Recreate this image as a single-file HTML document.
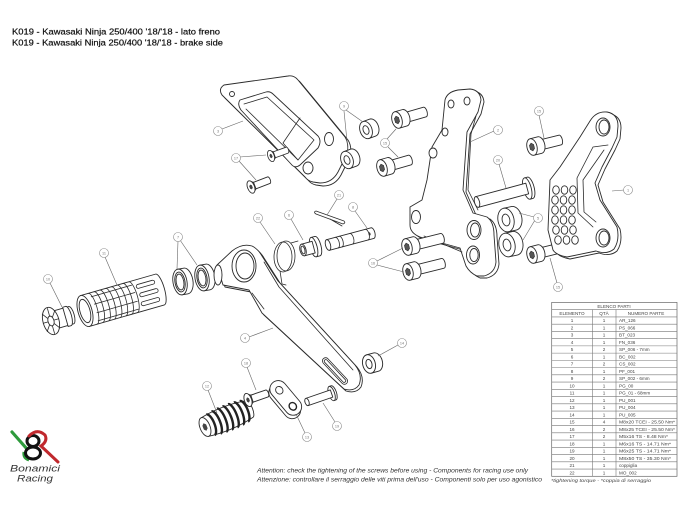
<!DOCTYPE html>
<html><head><meta charset="utf-8">
<style>
html,body{margin:0;padding:0;background:#fff}
svg{display:block}
.l{fill:#fff;stroke:#2b2b2b;stroke-width:.9;stroke-linejoin:round}
.n{fill:none;stroke:#2b2b2b;stroke-width:.8;stroke-linejoin:round;stroke-linecap:round}
.ld{stroke:#666;stroke-width:.6;fill:none}
.c{fill:#fff;stroke:#8a8a8a;stroke-width:.6}
.ct{font-family:"Liberation Sans",sans-serif;font-size:3.8px;fill:#777;text-anchor:middle}
.tb{font-family:"Liberation Sans",sans-serif;font-size:4.6px;fill:#444}
.tc{text-anchor:middle}
</style></head>
<body>
<svg width="680" height="510" viewBox="0 0 680 510" xmlns="http://www.w3.org/2000/svg">
<rect width="680" height="510" fill="#fff"/>
<defs>
 <g id="b29">
  <path class="l" d="M6,-5 L29,-5 A2.2,5 0 0 1 29,5 L6,5 Z"/>
  <path class="l" d="M0,-8.5 L8,-8.5 A5,8.5 0 0 1 8,8.5 L0,8.5 Z"/>
  <ellipse class="l" rx="5" ry="8.5"/>
  <path d="M0,-4 L2.2,-2 L2.2,2 L0,4 L-2.2,2 L-2.2,-2 Z" fill="#555" stroke="#222" stroke-width=".5"/>
 </g>
 <g id="b36">
  <path class="l" d="M6,-5 L36,-5 A2.2,5 0 0 1 36,5 L6,5 Z"/>
  <path class="l" d="M0,-8.5 L8,-8.5 A5,8.5 0 0 1 8,8.5 L0,8.5 Z"/>
  <ellipse class="l" rx="5" ry="8.5"/>
  <path d="M0,-4 L2.2,-2 L2.2,2 L0,4 L-2.2,2 L-2.2,-2 Z" fill="#555" stroke="#222" stroke-width=".5"/>
 </g>
 <g id="fb">
  <path class="l" d="M3,-3.5 L19,-3.5 A1.6,3.5 0 0 1 19,3.5 L3,3.5 Z"/>
  <path class="l" d="M0,-6.5 L4,-3.5 L4,3.5 L0,6.5 Z"/>
  <ellipse class="l" rx="3.5" ry="6.5"/>
  <path d="M0,-2.6 L1.4,-1.3 L1.4,1.3 L0,2.6 L-1.4,1.3 L-1.4,-1.3 Z" fill="#444"/>
 </g>
 <g id="w9">
  <path class="l" d="M0,-9 L7,-9 A6,9 0 0 1 7,9 L0,9 Z"/>
  <ellipse class="l" rx="6" ry="9"/>
  <ellipse class="l" rx="2.8" ry="4.5"/>
 </g>
 <g id="w5">
  <path class="l" d="M0,-12 L8,-12 A8,12 0 0 1 8,12 L0,12 Z"/>
  <ellipse class="l" rx="8" ry="12"/>
  <ellipse class="l" rx="3.8" ry="6"/>
 </g>
</defs>

<!-- Title -->
<text x="12" y="34.3" font-family="Liberation Sans, sans-serif" font-size="8.4" fill="#111" stroke="#111" stroke-width=".2" textLength="208" lengthAdjust="spacingAndGlyphs">K019 - Kawasaki Ninja 250/400 '18/'18 - lato freno</text>
<text x="12" y="45.6" font-family="Liberation Sans, sans-serif" font-size="8.4" fill="#111" stroke="#111" stroke-width=".2" textLength="211" lengthAdjust="spacingAndGlyphs">K019 - Kawasaki Ninja 250/400 '18/'18 - brake side</text>

<!-- Part 3 plate -->
<path class="l" transform="translate(3,3)" d="M224,85 L288,76 Q294,75 298,80 L345,137 Q350,145 346,156 L338,172 Q332,183 320,183 L313,182 Q308,181 305,177 L222,95 Q218,89 224,85 Z"/>
<path class="l" d="M224,85 L288,76 Q294,75 298,80 L345,137 Q350,145 346,156 L338,172 Q332,183 320,183 L313,182 Q308,181 305,177 L222,95 Q218,89 224,85 Z"/>
<path class="l" d="M240,100 L266,92 Q270,91 273,94 L318,136 Q322,141 318,148 L300,165 Q295,169 291,164 L241,110 Q237,104 240,100 Z"/>
<path class="n" d="M244,104 L267,97 L314,140 L298,160 L246,109"/>
<path class="n" d="M300,118 L283,143 L298,160"/>
<circle class="l" cx="232" cy="94" r="2.5"/>
<ellipse class="l" cx="329" cy="139" rx="4.5" ry="6.5"/>
<ellipse class="l" cx="308" cy="168" rx="5" ry="6"/>

<!-- 17 bolts -->
<use href="#fb" transform="translate(271,156) rotate(-20) scale(.9)"/>
<use href="#fb" transform="translate(251,187) rotate(-21)"/>

<!-- 9 washers -->
<use href="#w9" transform="translate(366,130) rotate(-20)"/>
<use href="#w9" transform="translate(347,160) rotate(-20)"/>

<!-- 15 bolts upper -->
<use href="#b29" transform="translate(397,120) rotate(-16)"/>
<use href="#b29" transform="translate(382,168) rotate(-16)"/>

<!-- Part 2 bracket -->
<path class="l" transform="translate(3,2)" d="M445,100 Q447,92 458,90 L470,89 Q480,90 481,100 L478,112 L467,132 L463,190 L473,213 L487,217 Q494,222 494,235 L496,262 Q495,273 484,276 L477,276 Q470,273 466,266 L460,248 L420,237 Q410,233 410,225 L410,207 L422,200 L427,180 L432,147 L442,130 Z"/>
<path class="l" d="M445,100 Q447,92 458,90 L470,89 Q480,90 481,100 L478,112 L467,132 L463,190 L473,213 L487,217 Q494,222 494,235 L496,262 Q495,273 484,276 L477,276 Q470,273 466,266 L460,248 L420,237 Q410,233 410,225 L410,207 L422,200 L427,180 L432,147 L442,130 Z"/>
<path class="n" d="M476,116 L471,134 L468,190 L478,210"/>
<path class="n" d="M424,236 L462,252"/>
<ellipse class="l" cx="451" cy="104" rx="3" ry="4"/>
<ellipse class="l" cx="467" cy="101" rx="3" ry="4"/>
<ellipse class="l" cx="445" cy="132" rx="3" ry="4"/>
<ellipse class="l" cx="433" cy="153" rx="4" ry="5"/>
<ellipse class="l" cx="416" cy="217" rx="4.5" ry="6.5"/>
<ellipse class="l" cx="474" cy="230" rx="7" ry="9.5"/>
<ellipse class="l" cx="475" cy="230" rx="4.5" ry="7"/>
<ellipse class="l" cx="473" cy="255" rx="6.5" ry="9"/>
<ellipse class="l" cx="474" cy="255" rx="4.2" ry="6.5"/>

<!-- 16 bolts -->
<use href="#b36" transform="translate(407,247) rotate(-14)"/>
<use href="#b36" transform="translate(408,272) rotate(-14)"/>

<!-- 20 pin -->
<g transform="translate(477,202) rotate(-15)">
 <path class="l" d="M52,-11 L55,-11 A4,11 0 0 1 55,11 L52,11 Z"/>
 <ellipse class="l" cx="52" rx="4" ry="11"/>
 <path class="l" d="M0,-5.5 L52,-5.5 L52,5.5 L0,5.5 Z"/>
 <ellipse class="l" rx="2.5" ry="5.5"/>
</g>

<!-- 5 washers -->
<use href="#w5" transform="translate(506,220) rotate(-12)"/>
<use href="#w5" transform="translate(507,245) rotate(-12)"/>

<!-- 15 bolts right -->
<use href="#b29" transform="translate(532,147) rotate(-14)"/>
<use href="#b29" transform="translate(532,255) rotate(-14)"/>

<!-- Part 1 plate -->
<path class="l" transform="translate(3,2)" d="M590,121 Q596,111 607,112 Q618,114 618,126 L617,137 L612,148 L602,167 L595,183 L600,200 L617,227 Q620,240 614,249 Q607,255 596,251 L567,257 Q556,255 553,250 L548,230 L550,180 L560,167 L580,137 Z"/>
<path class="l" d="M590,121 Q596,111 607,112 Q618,114 618,126 L617,137 L612,148 L602,167 L595,183 L600,200 L617,227 Q620,240 614,249 Q607,255 596,251 L567,257 Q556,255 553,250 L548,230 L550,180 L560,167 L580,137 Z"/>
<path class="n" d="M608,145 L593,147 L577,178 L578,213 L593,227"/>
<path class="n" d="M604,150 L583,180 L584,212 L596,222"/>
<ellipse class="l" cx="603" cy="127" rx="7" ry="9"/>
<ellipse class="l" cx="604" cy="127" rx="5" ry="7"/>
<ellipse class="l" cx="603" cy="238" rx="7" ry="9"/>
<ellipse class="l" cx="604" cy="238" rx="5" ry="7"/>
<g class="l" stroke-width=".8">
<ellipse cx="556" cy="190" rx="3.3" ry="4.2"/><ellipse cx="564.5" cy="190" rx="3.3" ry="4.2"/><ellipse cx="573" cy="190" rx="3.3" ry="4.2"/>
<ellipse cx="555" cy="200" rx="3.3" ry="4.2"/><ellipse cx="563.5" cy="200" rx="3.3" ry="4.2"/><ellipse cx="572" cy="200" rx="3.3" ry="4.2"/>
<ellipse cx="555" cy="210" rx="3.3" ry="4.2"/><ellipse cx="563.5" cy="210" rx="3.3" ry="4.2"/><ellipse cx="572" cy="210" rx="3.3" ry="4.2"/>
<ellipse cx="555" cy="220" rx="3.3" ry="4.2"/><ellipse cx="563.5" cy="220" rx="3.3" ry="4.2"/><ellipse cx="572" cy="220" rx="3.3" ry="4.2"/>
<ellipse cx="556" cy="230" rx="3.3" ry="4.2"/><ellipse cx="564.5" cy="230" rx="3.3" ry="4.2"/><ellipse cx="573" cy="230" rx="3.3" ry="4.2"/>
<ellipse cx="558" cy="240" rx="3.3" ry="4.2"/><ellipse cx="566.5" cy="240" rx="3.3" ry="4.2"/><ellipse cx="575" cy="240" rx="3.3" ry="4.2"/>
</g>

<!-- 10 end cap -->
<g transform="translate(51,321) rotate(-16)">
 <path class="l" d="M0,-9 L21,-9 A3,9 0 0 1 21,9 L0,9 Z"/>
 <path class="l" d="M15,-10 L18,-10 A3.2,10 0 0 1 18,10 L15,10 Z"/>
 <ellipse class="l" rx="8" ry="14"/>
 <ellipse class="l" rx="3" ry="5"/>
 <path class="n" d="M0,-5 L0,-13 M2.6,-3.5 L6.5,-9 M3,0 L8,0 M2.6,3.5 L6.5,9 M0,5 L0,13 M-2.6,3.5 L-6.5,9 M-3,0 L-8,0 M-2.6,-3.5 L-6.5,-9" stroke-width="1.4"/>
</g>

<!-- 11 footpeg -->
<g transform="translate(85,311) rotate(-16)">
 <path class="l" d="M0,-16 L78,-16 A4.5,16 0 0 1 78,16 L0,16 Z"/>
 <path class="n" d="M8,-16 A4.5,16 0 0 1 8,16 M14,-16 A4.5,16 0 0 1 14,16 M20,-16 A4.5,16 0 0 1 20,16 M26,-16 A4.5,16 0 0 1 26,16 M32,-16 A4.5,16 0 0 1 32,16 M38,-16 A4.5,16 0 0 1 38,16 M44,-16 A4.5,16 0 0 1 44,16 M50,-16 A4.5,16 0 0 1 50,16"/>
 <path class="n" d="M10,-12 L52,-12 M11,-4 L53,-4 M11,5 L53,5 M10,13 L52,13"/>
 <rect class="n" x="56" y="-11" width="19" height="4" rx="2"/>
 <rect class="n" x="57" y="-2" width="19" height="4" rx="2"/>
 <rect class="n" x="56" y="7" width="19" height="4" rx="2"/>
 <ellipse class="l" rx="7" ry="16"/>
 <ellipse class="l" rx="5" ry="12"/>
</g>

<!-- 7 bearings -->
<g transform="translate(180,282) rotate(-10)">
 <path class="l" d="M0,-13 L6,-13 A7,13 0 0 1 6,13 L0,13 Z"/>
 <ellipse class="l" rx="7" ry="13" stroke-width="1.4"/>
 <ellipse class="l" rx="5" ry="10"/>
 <ellipse class="l" rx="3.8" ry="8" stroke-width="1.3"/>
</g>
<g transform="translate(202,278) rotate(-10)">
 <path class="l" d="M0,-13 L6,-13 A7,13 0 0 1 6,13 L0,13 Z"/>
 <ellipse class="l" rx="7" ry="13" stroke-width="1.4"/>
 <ellipse class="l" rx="5" ry="10"/>
 <ellipse class="l" rx="3.8" ry="8" stroke-width="1.3"/>
</g>

<!-- 22 spring (behind) -->
<ellipse class="n" cx="283" cy="257" rx="9" ry="15" stroke-width="1"/>
<ellipse class="n" cx="286" cy="256" rx="9" ry="15" stroke-width="1"/>
<path class="n" d="M280,271 L282,284 L286,285 M291,243 L298,241"/>

<!-- 4 lever -->
<path class="l" transform="translate(2,2)" d="M217,265 L232,251 Q242,243 252,246 Q258,249 262,256 L278,281 L355,365 Q363,375 359,385 Q354,392 344,389 L262,313 L249,290 L223,285 Z"/>
<path class="l" d="M217,265 L232,251 Q242,243 252,246 Q258,249 262,256 L278,281 L355,365 Q363,375 359,385 Q354,392 344,389 L262,313 L249,290 L223,285 Z"/>
<path class="n" d="M264,262 L279,287 L353,370"/>
<path class="n" d="M252,293 L264,309"/>
<ellipse class="l" cx="218" cy="275" rx="4" ry="10"/>
<ellipse class="l" cx="244" cy="266" rx="12" ry="16"/>
<ellipse class="l" cx="245" cy="266" rx="9" ry="13" stroke-width="1.8"/>
<g transform="translate(335,371) rotate(47)">
 <rect class="n" x="-17" y="-3.2" width="34" height="6.4" rx="3.2"/>
 <rect class="n" x="-15" y="-1.6" width="30" height="3.2" rx="1.6"/>
</g>

<!-- 6 bushing -->
<g transform="translate(303,250) rotate(-15)">
 <path class="l" d="M11,-10 L15,-10 A3.5,10 0 0 1 15,10 L11,10 Z"/>
 <ellipse class="l" cx="11" rx="3.5" ry="10" stroke-width="1.4"/>
 <path class="l" d="M0,-6 L11,-6 L11,6 L0,6 Z"/>
 <ellipse class="l" rx="3" ry="6" stroke-width="1.3"/>
 <ellipse class="l" rx="1.8" ry="4"/>
</g>

<!-- 21 cotter pin -->
<path class="n" d="M316,211 L344,221 Q346,223 343,224 L316,214 Q313,212 316,211 Z M330,219 L342,226"/>

<!-- 8 shaft -->
<g transform="translate(328,245) rotate(-15)">
 <path class="l" d="M0,-5.5 L46,-5.5 A2.5,5.5 0 0 1 46,5.5 L0,5.5 Z"/>
 <ellipse class="l" rx="2.5" ry="5.5"/>
 <path class="n" d="M9,-5.5 A2.5,5.5 0 0 1 9,5.5 M13,-5.5 A2.5,5.5 0 0 1 13,5.5 M24,-5.5 A2.5,5.5 0 0 1 24,5.5 M40,-5.5 A2.5,5.5 0 0 1 40,5.5"/>
 <ellipse cx="43" cy="0" rx="1" ry="1.6" fill="#333"/>
</g>

<!-- 14 washer -->
<use href="#w9" transform="translate(369,364) rotate(-15) scale(1.05)"/>

<!-- 12 rubber -->
<g transform="translate(205,427) rotate(-22)">
 <path class="l" d="M0,-10 Q24,-14 48,-9 A3,9 0 0 1 48,9 Q24,14 0,10 Z"/>
 <path d="M6,-11 A4,11 0 0 1 6,11 M12,-12 A4,12 0 0 1 12,12 M18,-12.5 A4,12.5 0 0 1 18,12.5 M24,-12.5 A4,12.5 0 0 1 24,12.5 M30,-12.5 A4,12.5 0 0 1 30,12.5 M36,-12 A4,12 0 0 1 36,12 M42,-11 A4,11 0 0 1 42,11" fill="none" stroke="#222" stroke-width="2.4"/>
 <ellipse class="l" rx="5" ry="10"/>
 <path d="M0,-4 L2,-2 L2,2 L0,4 L-2,2 L-2,-2 Z" fill="#444"/>
</g>

<!-- 18 bolt -->
<use href="#fb" transform="translate(248,400) rotate(-19) scale(1.05)"/>

<!-- 13 link -->
<g transform="translate(286,399) rotate(50)">
 <rect class="l" x="-19" y="-6" width="40" height="17" rx="8.5"/>
 <rect class="l" x="-21" y="-9" width="40" height="17" rx="8.5"/>
 <ellipse class="l" cx="-11" cy="-0.5" rx="4" ry="3.5"/>
 <ellipse cx="10" cy="-0.5" rx="4" ry="3.5" fill="#fff" stroke="#222" stroke-width="1.4"/>
</g>

<!-- 19 pin -->
<g transform="translate(307,402) rotate(-19)">
 <path class="l" d="M26,-7.5 L28,-7.5 A3,7.5 0 0 1 28,7.5 L26,7.5 Z"/>
 <ellipse class="l" cx="26" rx="3" ry="7.5"/>
 <path class="l" d="M0,-3.8 L26,-3.8 L26,3.8 L0,3.8 Z"/>
 <ellipse class="l" rx="2" ry="3.8"/>
</g>

<!-- Leaders and labels -->
<g class="ld">
 <line x1="222" y1="129" x2="243" y2="121"/>
 <line x1="346" y1="110" x2="363" y2="122"/><line x1="344" y1="111" x2="348" y2="151"/>
 <line x1="240" y1="157" x2="266" y2="155"/><line x1="239" y1="161" x2="256" y2="180"/>
 <line x1="387" y1="139" x2="396" y2="129"/><line x1="388" y1="147" x2="398" y2="157"/>
 <line x1="494" y1="131" x2="470" y2="142"/>
 <line x1="539" y1="115" x2="544" y2="138"/>
 <line x1="499" y1="164" x2="506" y2="188"/>
 <line x1="534" y1="217" x2="519" y2="213"/><line x1="535" y1="220" x2="523" y2="240"/>
 <line x1="624" y1="190" x2="612" y2="191"/>
 <line x1="557" y1="283" x2="550" y2="258"/>
 <line x1="377" y1="261" x2="403" y2="248"/><line x1="377" y1="265" x2="404" y2="272"/>
 <line x1="50" y1="283" x2="62" y2="307"/>
 <line x1="105" y1="257" x2="117" y2="285"/>
 <line x1="178" y1="241" x2="177" y2="269"/><line x1="180" y1="240" x2="197" y2="265"/>
 <line x1="260" y1="222" x2="275" y2="244"/>
 <line x1="291" y1="219" x2="303" y2="240"/>
 <line x1="337" y1="199" x2="327" y2="215"/>
 <line x1="355" y1="211" x2="367" y2="228"/>
 <line x1="249" y1="337" x2="273" y2="328"/>
 <line x1="398" y1="345" x2="378" y2="356"/>
 <line x1="208" y1="390" x2="217" y2="413"/>
 <line x1="247" y1="367" x2="256" y2="390"/>
 <line x1="305" y1="433" x2="296" y2="414"/>
 <line x1="335" y1="422" x2="323" y2="403"/>
</g>
<g>
 <circle class="c" cx="218" cy="131" r="4.5"/><text class="ct" x="218" y="132.4">3</text>
 <circle class="c" cx="344" cy="106" r="4.5"/><text class="ct" x="344" y="107.4">9</text>
 <circle class="c" cx="236" cy="158" r="4.5"/><text class="ct" x="236" y="159.4">17</text>
 <circle class="c" cx="385" cy="143" r="4.5"/><text class="ct" x="385" y="144.4">15</text>
 <circle class="c" cx="498" cy="130" r="4.5"/><text class="ct" x="498" y="131.4">2</text>
 <circle class="c" cx="539" cy="111" r="4.5"/><text class="ct" x="539" y="112.4">15</text>
 <circle class="c" cx="498" cy="160" r="4.5"/><text class="ct" x="498" y="161.4">20</text>
 <circle class="c" cx="538" cy="218" r="4.5"/><text class="ct" x="538" y="219.4">5</text>
 <circle class="c" cx="628" cy="190" r="4.5"/><text class="ct" x="628" y="191.4">1</text>
 <circle class="c" cx="558" cy="287" r="4.5"/><text class="ct" x="558" y="288.4">15</text>
 <circle class="c" cx="373" cy="263" r="4.5"/><text class="ct" x="373" y="264.4">16</text>
 <circle class="c" cx="48" cy="279" r="4.5"/><text class="ct" x="48" y="280.4">10</text>
 <circle class="c" cx="104" cy="253" r="4.5"/><text class="ct" x="104" y="254.4">11</text>
 <circle class="c" cx="178" cy="237" r="4.5"/><text class="ct" x="178" y="238.4">7</text>
 <circle class="c" cx="258" cy="218" r="4.5"/><text class="ct" x="258" y="219.4">22</text>
 <circle class="c" cx="289" cy="215" r="4.5"/><text class="ct" x="289" y="216.4">6</text>
 <circle class="c" cx="339" cy="195" r="4.5"/><text class="ct" x="339" y="196.4">21</text>
 <circle class="c" cx="353" cy="207" r="4.5"/><text class="ct" x="353" y="208.4">8</text>
 <circle class="c" cx="245" cy="338" r="4.5"/><text class="ct" x="245" y="339.4">4</text>
 <circle class="c" cx="402" cy="343" r="4.5"/><text class="ct" x="402" y="344.4">14</text>
 <circle class="c" cx="207" cy="386" r="4.5"/><text class="ct" x="207" y="387.4">12</text>
 <circle class="c" cx="246" cy="363" r="4.5"/><text class="ct" x="246" y="364.4">18</text>
 <circle class="c" cx="307" cy="437" r="4.5"/><text class="ct" x="307" y="438.4">13</text>
 <circle class="c" cx="337" cy="426" r="4.5"/><text class="ct" x="337" y="427.4">19</text>
</g>

<!-- Logo -->
<path d="M12,432 L27,449" stroke="#2e9a3c" stroke-width="3.2" fill="none" stroke-linecap="round"/>
<path d="M24,452 Q23,458 29,460" stroke="#2e9a3c" stroke-width="3" fill="none"/>
<ellipse cx="33" cy="441" rx="6" ry="5.5" stroke="#111" stroke-width="3" fill="none"/>
<ellipse cx="33" cy="453" rx="7.5" ry="6" stroke="#111" stroke-width="3" fill="none"/>
<path d="M29,436 Q37,428 45,435 Q48,441 41,446 L58,462" stroke="#c0282d" stroke-width="3" fill="none" stroke-linecap="round"/>
<text x="10" y="471.7" font-family="Liberation Sans, sans-serif" font-style="italic" font-size="9.5" fill="#333" textLength="50" lengthAdjust="spacingAndGlyphs">Bonamici</text>
<text x="17" y="481.7" font-family="Liberation Sans, sans-serif" font-style="italic" font-size="9.5" fill="#333" textLength="36" lengthAdjust="spacingAndGlyphs">Racing</text>

<!-- Attention text -->
<text x="257" y="472.7" font-family="Liberation Sans, sans-serif" font-style="italic" font-size="6.2" fill="#333" textLength="271" lengthAdjust="spacingAndGlyphs">Attention: check the tightening of the screws before using - Components for racing use only</text>
<text x="257" y="481.7" font-family="Liberation Sans, sans-serif" font-style="italic" font-size="6.2" fill="#333" textLength="285" lengthAdjust="spacingAndGlyphs">Attenzione: controllare il serraggio delle viti prima dell'uso - Componenti solo per uso agonistico</text>

<!-- Table -->
<rect x="551.7" y="302.4" width="125.3" height="173.9" fill="#fff" stroke="#666" stroke-width=".7"/>
<path d="M551.7,309.6H677 M551.7,316.9H677 M551.7,324.15H677 M551.7,331.39H677 M551.7,338.64H677 M551.7,345.88H677 M551.7,353.13H677 M551.7,360.37H677 M551.7,367.62H677 M551.7,374.86H677 M551.7,382.11H677 M551.7,389.35H677 M551.7,396.6H677 M551.7,403.84H677 M551.7,411.09H677 M551.7,418.33H677 M551.7,425.58H677 M551.7,432.82H677 M551.7,440.07H677 M551.7,447.31H677 M551.7,454.56H677 M551.7,461.8H677 M551.7,469.05H677 M592.3,309.6V476.3 M616,309.6V476.3" stroke="#777" stroke-width=".6" fill="none"/>
<g class="tb">
<text class="tc" x="614" y="307.9">ELENCO PARTI</text>
<text class="tc" x="572" y="315.2">ELEMENTO</text><text class="tc" x="604" y="315.2">QTÀ</text><text class="tc" x="646" y="315.2">NUMERO PARTE</text>
</g>
<g class="tb">
<text class="tc" x="572" y="322.2">1</text><text class="tc" x="604" y="322.2">1</text><text x="619" y="322.2">AR_126</text>
<text class="tc" x="572" y="329.4">2</text><text class="tc" x="604" y="329.4">1</text><text x="619" y="329.4">PS_066</text>
<text class="tc" x="572" y="336.7">3</text><text class="tc" x="604" y="336.7">1</text><text x="619" y="336.7">BT_023</text>
<text class="tc" x="572" y="343.9">4</text><text class="tc" x="604" y="343.9">1</text><text x="619" y="343.9">FN_036</text>
<text class="tc" x="572" y="351.2">5</text><text class="tc" x="604" y="351.2">2</text><text x="619" y="351.2">SP_006 - 7mm</text>
<text class="tc" x="572" y="358.4">6</text><text class="tc" x="604" y="358.4">1</text><text x="619" y="358.4">BC_002</text>
<text class="tc" x="572" y="365.7">7</text><text class="tc" x="604" y="365.7">2</text><text x="619" y="365.7">CS_002</text>
<text class="tc" x="572" y="372.9">8</text><text class="tc" x="604" y="372.9">1</text><text x="619" y="372.9">PF_001</text>
<text class="tc" x="572" y="380.2">9</text><text class="tc" x="604" y="380.2">2</text><text x="619" y="380.2">SP_002 - 6mm</text>
<text class="tc" x="572" y="387.4">10</text><text class="tc" x="604" y="387.4">1</text><text x="619" y="387.4">PG_00</text>
<text class="tc" x="572" y="394.7">11</text><text class="tc" x="604" y="394.7">1</text><text x="619" y="394.7">PG_01 - 68mm</text>
<text class="tc" x="572" y="401.9">12</text><text class="tc" x="604" y="401.9">1</text><text x="619" y="401.9">PU_001</text>
<text class="tc" x="572" y="409.2">13</text><text class="tc" x="604" y="409.2">1</text><text x="619" y="409.2">PU_004</text>
<text class="tc" x="572" y="416.4">14</text><text class="tc" x="604" y="416.4">1</text><text x="619" y="416.4">PU_005</text>
<text class="tc" x="572" y="423.7">15</text><text class="tc" x="604" y="423.7">4</text><text x="619" y="423.7" textLength="56" lengthAdjust="spacingAndGlyphs">M8x20 TCEI - 25.50 Nm*</text>
<text class="tc" x="572" y="430.9">16</text><text class="tc" x="604" y="430.9">2</text><text x="619" y="430.9" textLength="56" lengthAdjust="spacingAndGlyphs">M8x25 TCEI - 25.50 Nm*</text>
<text class="tc" x="572" y="438.2">17</text><text class="tc" x="604" y="438.2">2</text><text x="619" y="438.2" textLength="49" lengthAdjust="spacingAndGlyphs">M5x16 TS - 8.48 Nm*</text>
<text class="tc" x="572" y="445.4">18</text><text class="tc" x="604" y="445.4">1</text><text x="619" y="445.4" textLength="52" lengthAdjust="spacingAndGlyphs">M6x16 TS - 14.71 Nm*</text>
<text class="tc" x="572" y="452.7">19</text><text class="tc" x="604" y="452.7">1</text><text x="619" y="452.7" textLength="52" lengthAdjust="spacingAndGlyphs">M6x25 TS - 14.71 Nm*</text>
<text class="tc" x="572" y="459.9">20</text><text class="tc" x="604" y="459.9">1</text><text x="619" y="459.9" textLength="52" lengthAdjust="spacingAndGlyphs">M8x50 TS - 35.30 Nm*</text>
<text class="tc" x="572" y="467.2">21</text><text class="tc" x="604" y="467.2">1</text><text x="619" y="467.2">coppiglia</text>
<text class="tc" x="572" y="474.4">22</text><text class="tc" x="604" y="474.4">1</text><text x="619" y="474.4">MO_002</text>
</g>
<text x="551" y="482" font-family="Liberation Sans, sans-serif" font-style="italic" font-size="4.8" fill="#444" textLength="100" lengthAdjust="spacingAndGlyphs">*tightening torque - *coppia di serraggio</text>
</svg>
</body></html>
